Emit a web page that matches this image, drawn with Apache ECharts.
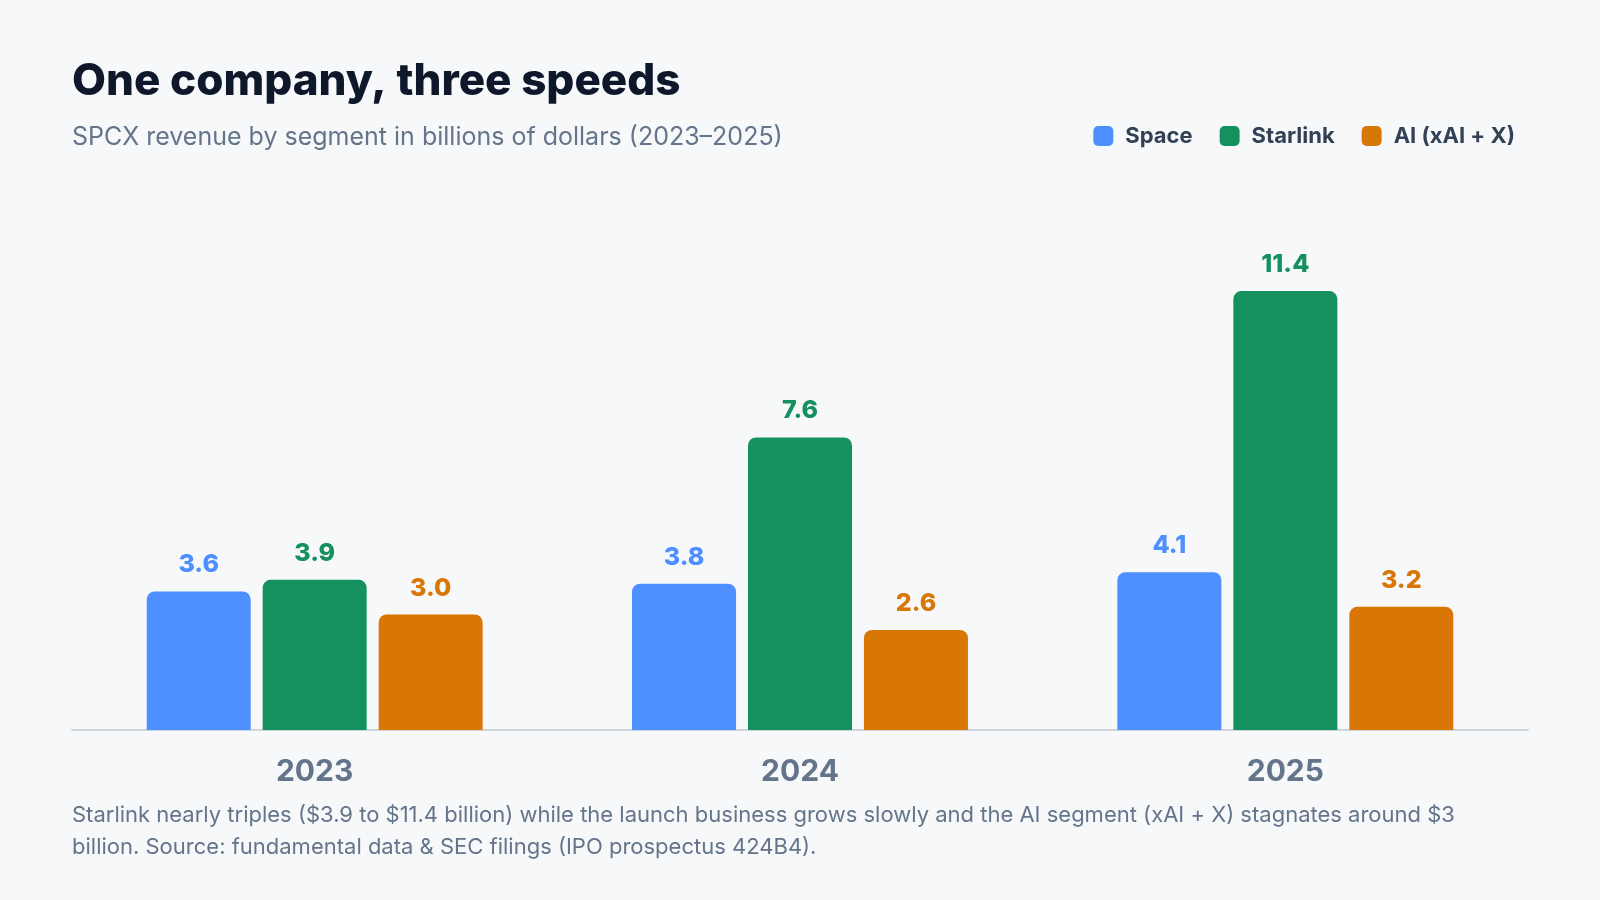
<!DOCTYPE html>
<html>
<head>
<meta charset="utf-8">
<script src="https://cdn.jsdelivr.net/npm/echarts@6/dist/echarts.min.js"></script>
<style>
  html, body { margin: 0; padding: 0; background: #f7f8fa; }
  #chart { width: 1600px; height: 900px; }
</style>
</head>
<body>
<div id="chart"></div>
<script>
// Data
var years = ['2023', '2024', '2025'];
var spaceValues = [3.6, 3.8, 4.1];
var starlinkValues = [3.9, 7.6, 11.4];
var aiValues = [3.0, 2.6, 3.2];
var seriesNames = ['Space', 'Starlink', 'AI (xAI + X)'];

var chartTitle = 'One company, three speeds';
var chartSubtitle = 'SPCX revenue by segment in billions of dollars (2023\u20132025)';
var footnote = 'Starlink nearly triples ($3.9 to $11.4 billion) while the launch business grows slowly and the AI segment (xAI + X) stagnates around $3 billion. Source: fundamental data & SEC filings (IPO prospectus 424B4).';

// Colors
var colorSpace = '#4d8ffe',
    colorStarlink = '#15905f',
    colorAi = '#d97706';

var fontFamily = 'Inter, "Noto Sans", sans-serif';

var chart = echarts.init(document.getElementById('chart'), null, { renderer: 'canvas' });

// Series helper
var makeSeries = function(name, values, color) {
    return {
        name: name,
        type: 'bar',
        data: values,
        barWidth: 104,
        barGap: '11.5%',
        itemStyle: {
            color: color,
            borderRadius: [8, 8, 0, 0]
        },
        label: {
            show: true,
            position: 'top',
            distance: 14,
            color: color,
            fontFamily: fontFamily,
            fontWeight: 800,
            fontSize: 25,
            formatter: function(p) { return p.value.toFixed(1); }
        }
    };
};

chart.setOption({
    backgroundColor: '#f7f8fa',
    animation: false,
    textStyle: { fontFamily: fontFamily },

    title: [
        {
            text: chartTitle,
            subtext: chartSubtitle,
            left: 72,
            top: 60,
            padding: 0,
            itemGap: 21,
            textStyle: {
                fontFamily: fontFamily,
                fontSize: 44,
                fontWeight: 800,
                color: '#0f172a'
            },
            subtextStyle: {
                fontFamily: fontFamily,
                fontSize: 25,
                color: '#64748b'
            }
        },
        {
            text: footnote,
            left: 72,
            top: 799,
            padding: 0,
            textStyle: {
                fontFamily: fontFamily,
                fontSize: 22,
                fontWeight: 'normal',
                color: '#64748b',
                lineHeight: 32,
                width: 1450,
                overflow: 'break'
            }
        }
    ],

    legend: {
        right: 80,
        top: 120,
        itemWidth: 20,
        itemHeight: 20,
        itemGap: 27,
        icon: 'roundRect',
        textStyle: {
            fontFamily: fontFamily,
            fontSize: 22,
            fontWeight: 700,
            color: '#334155',
            padding: [0, 0, 0, 7]
        },
        data: seriesNames
    },

    grid: {
        left: 72,
        right: 72,
        top: 268,
        bottom: 170
    },

    xAxis: {
        type: 'category',
        data: years,
        axisLine: { lineStyle: { color: '#cfd5dd', width: 2 } },
        axisTick: { show: false },
        axisLabel: {
            margin: 27,
            fontFamily: fontFamily,
            fontSize: 30,
            fontWeight: 700,
            color: '#64748b'
        }
    },

    yAxis: {
        type: 'value',
        min: 0,
        max: 12,
        show: false,
        splitLine: { show: false }
    },

    series: [
        makeSeries(seriesNames[0], spaceValues, colorSpace),
        makeSeries(seriesNames[1], starlinkValues, colorStarlink),
        makeSeries(seriesNames[2], aiValues, colorAi)
    ]
});
</script>
</body>
</html>
